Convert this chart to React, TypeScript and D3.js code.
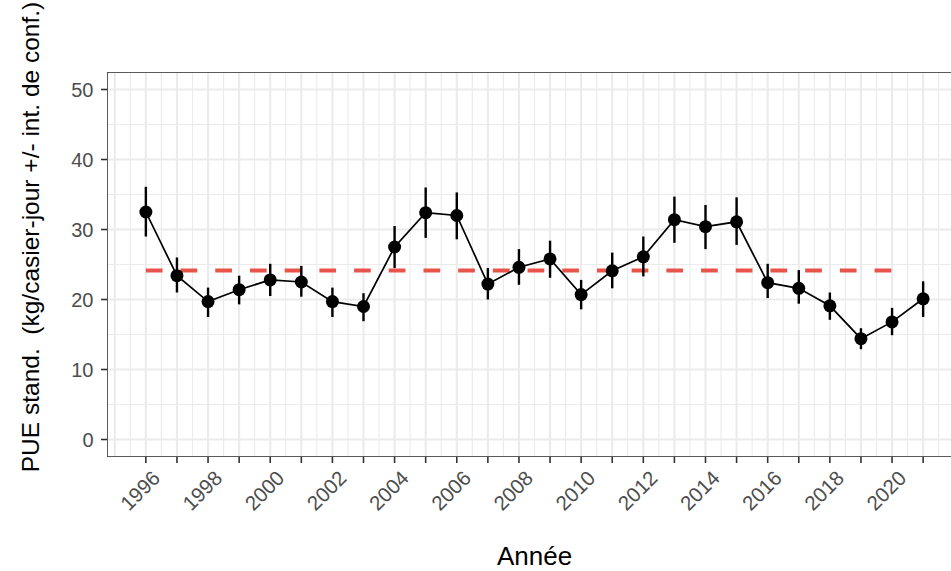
import React from "react";
import * as d3 from "d3";

// Standardised CPUE per year with confidence interval bounds
const years = [1996, 1997, 1998, 1999, 2000, 2001, 2002, 2003, 2004, 2005, 2006, 2007, 2008, 2009, 2010, 2011, 2012, 2013, 2014, 2015, 2016, 2017, 2018, 2019, 2020, 2021];
const pue = [32.5, 23.4, 19.7, 21.4, 22.8, 22.5, 19.7, 19.0, 27.5, 32.4, 32.0, 22.2, 24.6, 25.8, 20.7, 24.1, 26.1, 31.4, 30.4, 31.1, 22.4, 21.6, 19.1, 14.4, 16.8, 20.1];
const lower = [29.0, 21.0, 17.5, 19.3, 20.5, 20.4, 17.5, 16.9, 24.5, 28.8, 28.6, 20.0, 22.1, 23.1, 18.6, 21.6, 23.3, 28.1, 27.2, 27.8, 20.2, 19.4, 17.1, 12.9, 14.9, 17.5];
const upper = [36.1, 26.0, 21.7, 23.4, 25.1, 24.8, 21.7, 20.9, 30.5, 36.0, 35.3, 24.5, 27.2, 28.4, 22.8, 26.7, 29.0, 34.7, 33.5, 34.6, 25.1, 24.2, 21.0, 15.9, 18.8, 22.6];

const xTickYears = years;
const xLabelYears = [1996, 1998, 2000, 2002, 2004, 2006, 2008, 2010, 2012, 2014, 2016, 2018, 2020];
const yTicks = [0, 10, 20, 30, 40, 50];

// Reference period for the mean line
const refStart = 1996;
const refEnd = 2020;

const W = 951;
const H = 571;
const panel = { left: 107, top: 72, right: 962, bottom: 457 };

export default function App() {
  const x = d3.scaleLinear().domain([1994.75, 2022.25]).range([panel.left, panel.right]);
  const y = d3.scaleLinear().domain([-2.5, 52.5]).range([panel.bottom, panel.top]);

  const rows = years.map((yr, i) => ({ yr, v: pue[i], lo: lower[i], hi: upper[i] }));
  const refRows = rows.filter((r) => r.yr >= refStart && r.yr <= refEnd);
  const refMean = d3.mean(refRows, (r) => r.v) as number;

  const line = d3
    .line<{ yr: number; v: number }>()
    .x((d) => x(d.yr))
    .y((d) => y(d.v));

  const vMajor: number[] = d3.range(1995, 2023, 1);
  const vMinor: number[] = d3.range(1994.5, 2023, 1);
  const hMajor = yTicks;
  const hMinor = d3.range(-5, 55, 10);

  const textGrey = "#4D4D4D";
  const font = "'Liberation Sans', Arial, Helvetica, sans-serif";

  return (
    <svg
      width={W}
      height={H}
      style={{ position: "absolute", left: 0, top: 0, background: "#fff", overflow: "hidden" }}
      fontFamily={font}
    >
      <defs>
        <clipPath id="panelClip">
          <rect x={panel.left} y={panel.top} width={panel.right - panel.left} height={panel.bottom - panel.top} />
        </clipPath>
      </defs>

      <g clipPath="url(#panelClip)">
        <rect x={panel.left} y={panel.top} width={panel.right - panel.left} height={panel.bottom - panel.top} fill="#fff" />
        {hMinor.map((v) => (
          <line key={"hm" + v} x1={panel.left} x2={panel.right} y1={y(v)} y2={y(v)} stroke="#EBEBEB" strokeWidth={1.1} />
        ))}
        {vMinor.map((v) => (
          <line key={"vm" + v} x1={x(v)} x2={x(v)} y1={panel.top} y2={panel.bottom} stroke="#EBEBEB" strokeWidth={1.1} />
        ))}
        {hMajor.map((v) => (
          <line key={"hM" + v} x1={panel.left} x2={panel.right} y1={y(v)} y2={y(v)} stroke="#EBEBEB" strokeWidth={2.1} />
        ))}
        {vMajor.map((v) => (
          <line key={"vM" + v} x1={x(v)} x2={x(v)} y1={panel.top} y2={panel.bottom} stroke="#EBEBEB" strokeWidth={2.1} />
        ))}

        {/* mean over the reference period */}
        <line
          x1={x(refStart)}
          x2={x(refEnd)}
          y1={y(refMean)}
          y2={y(refMean)}
          stroke="#E8534A"
          strokeWidth={4}
          strokeDasharray="16.7 18"
        />

        {/* confidence intervals */}
        {rows.map((r) => (
          <line key={"ci" + r.yr} x1={x(r.yr)} x2={x(r.yr)} y1={y(r.lo)} y2={y(r.hi)} stroke="#000" strokeWidth={2.4} />
        ))}

        <path d={line(rows) as string} fill="none" stroke="#000" strokeWidth={1.7} />

        {rows.map((r) => (
          <circle key={"pt" + r.yr} cx={x(r.yr)} cy={y(r.v)} r={6.5} fill="#000" />
        ))}

        <rect
          x={panel.left}
          y={panel.top}
          width={panel.right - panel.left}
          height={panel.bottom - panel.top}
          fill="none"
          stroke="#333333"
          strokeWidth={1.6}
        />
      </g>

      {/* y axis */}
      {yTicks.map((v) => (
        <g key={"yt" + v}>
          <line x1={panel.left - 6} x2={panel.left} y1={y(v)} y2={y(v)} stroke="#333333" strokeWidth={1.6} />
          <text x={panel.left - 13.5} y={y(v)} dy="0.36em" textAnchor="end" fontSize={20} fill={textGrey}>
            {v}
          </text>
        </g>
      ))}

      {/* x axis */}
      {xTickYears.map((yr) => (
        <line key={"xt" + yr} x1={x(yr)} x2={x(yr)} y1={panel.bottom} y2={panel.bottom + 6} stroke="#333333" strokeWidth={1.6} />
      ))}
      {xLabelYears.map((yr) => (
        <text
          key={"xl" + yr}
          transform={`translate(${x(yr) + 5},${panel.bottom + 12}) rotate(-45)`}
          textAnchor="end"
          dy="0.72em"
          fontSize={20.5}
          fill={textGrey}
        >
          {yr}
        </text>
      ))}

      {/* axis titles */}
      <text x={(panel.left + panel.right) / 2} y={565} textAnchor="middle" fontSize={26} fill="#000">
        Année
      </text>
      <text
        transform={`translate(39,237) rotate(-90)`}
        textAnchor="middle"
        fontSize={24.5}
        fill="#000"
        style={{ whiteSpace: "pre" }}
      >
        {"PUE stand.  (kg/casier-jour +/- int. de conf.)"}
      </text>
    </svg>
  );
}
